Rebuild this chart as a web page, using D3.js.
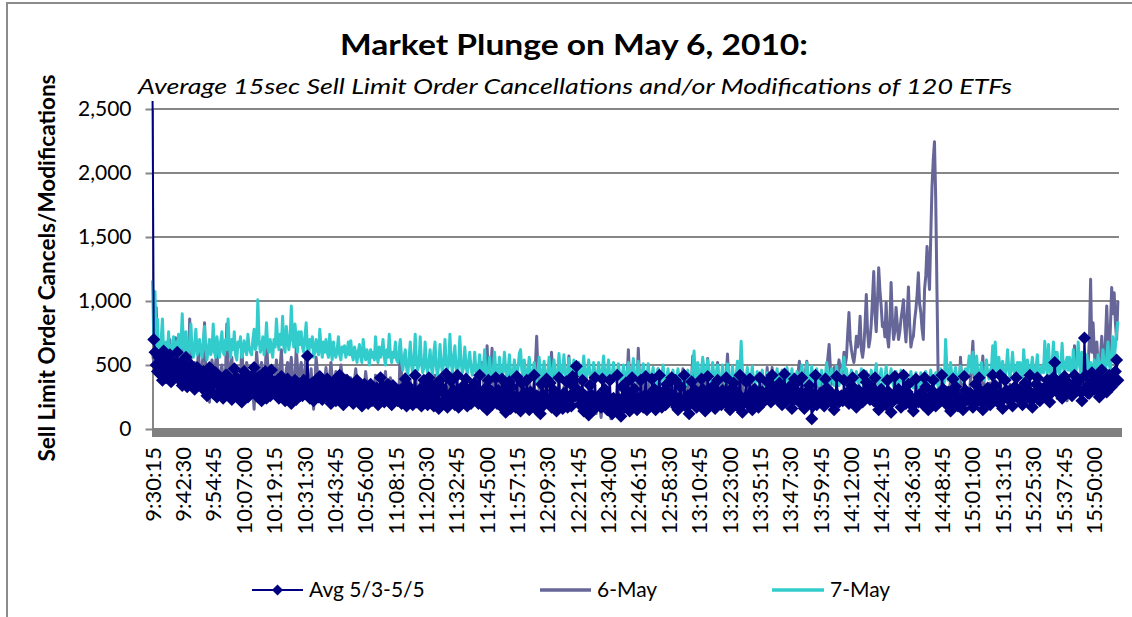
<!DOCTYPE html>
<html>
<head>
<meta charset="utf-8">
<script src="https://cdn.jsdelivr.net/npm/d3@7"></script>
<style>
  body { margin: 0; background: #fff; }
  svg { display: block; font-family: Lato, "Open Sans", sans-serif; }
</style>
</head>
<body>
<svg id="chart" width="1132" height="617"></svg>
<script>
// ---- data ----------------------------------------------------------------
const seriesNames = ["Avg 5/3-5/5", "6-May", "7-May"];
const seriesColors = ["#000080", "#666699", "#33cccc"];

const tickLabels = ["9:30:15","9:42:30","9:54:45","10:07:00","10:19:15","10:31:30","10:43:45",
  "10:56:00","11:08:15","11:20:30","11:32:45","11:45:00","11:57:15","12:09:30","12:21:45",
  "12:34:00","12:46:15","12:58:30","13:10:45","13:23:00","13:35:15","13:47:30","13:59:45",
  "14:12:00","14:24:15","14:36:30","14:48:45","15:01:00","15:13:15","15:25:30","15:37:45","15:50:00"];

const yTicks = [0, 500, 1000, 1500, 2000, 2500];

// one reading every 30 seconds from 9:30:15 (20 readings per row = 10 minutes)
const avgMay3to5 = [
  2700,700,600,500,450,560,430,520,380,610,470,400,540,420,580,370,490,440,520,410,
  600,450,380,520,340,470,410,560,330,440,390,500,350,460,310,420,480,360,410,340,
  380,450,300,420,260,390,480,330,410,280,360,440,250,350,400,290,370,240,330,420,
  420,300,260,380,230,350,470,290,400,320,250,380,210,340,450,280,360,250,390,300,
  340,420,480,300,390,250,410,330,220,380,290,450,240,330,400,260,460,310,370,280,
  280,380,240,330,410,270,350,220,300,390,250,340,200,310,270,380,230,350,300,260,
  320,260,380,290,370,570,330,240,300,360,220,340,280,390,250,410,300,230,350,270,
  300,390,240,350,200,330,270,380,220,360,290,420,240,310,190,340,260,380,230,310,
  260,340,200,310,230,380,270,220,330,180,290,350,240,310,200,280,350,220,300,260,
  240,320,190,290,400,250,330,210,300,260,350,220,280,190,340,240,310,270,220,300,
  270,200,320,240,390,180,340,230,300,250,190,280,420,210,270,240,310,180,260,380,
  240,310,190,400,220,350,250,180,300,210,290,160,380,330,200,280,230,430,170,250,
  260,375,220,300,190,270,420,170,250,290,210,340,230,390,180,260,310,200,270,240,
  360,250,290,200,420,230,270,180,310,240,150,380,220,300,190,260,230,400,200,300,
  240,180,390,210,310,130,250,200,370,160,330,220,250,170,410,200,240,140,360,210,
  280,190,380,210,150,290,230,180,420,210,260,140,240,120,350,270,190,230,390,210,
  210,360,170,240,300,200,140,250,400,190,230,160,280,210,370,170,220,260,180,410,
  330,260,490,300,250,190,290,380,140,260,230,180,110,340,270,200,150,400,200,230,
  260,200,170,390,230,310,190,150,250,380,200,120,240,180,210,420,140,230,100,330,
  230,170,360,200,290,140,220,400,180,310,200,150,240,190,380,220,170,260,410,150,
  260,200,180,390,230,310,150,240,200,420,230,170,260,300,190,350,210,280,230,400,
  210,260,380,170,150,240,330,220,190,420,230,170,260,120,210,370,290,200,300,170,
  250,200,190,390,310,220,140,250,410,190,220,300,330,210,160,250,380,200,280,190,
  300,230,210,400,260,180,150,240,320,360,230,190,180,270,420,220,130,200,240,370,
  200,260,390,190,150,230,310,260,220,170,400,250,290,210,230,280,370,260,260,210,
  420,330,300,240,250,320,360,280,190,250,430,210,230,300,330,250,160,220,390,300,
  365,280,210,260,400,200,160,240,260,300,340,230,80,180,270,420,190,250,240,280,
  250,220,180,390,320,250,230,290,280,200,150,230,410,260,210,250,260,220,380,240,
  280,240,200,290,340,400,230,200,170,250,300,260,250,210,420,280,365,300,260,230,
  330,270,220,400,280,200,150,230,310,270,240,200,190,380,290,230,130,210,260,410,
  240,280,310,230,170,250,420,220,200,290,350,260,230,180,140,220,390,250,210,260,
  280,230,190,400,330,240,150,220,250,300,380,240,180,230,270,210,220,420,310,250,
  200,250,290,220,140,200,390,300,330,260,180,220,240,190,150,410,300,250,230,270,
  280,220,170,250,350,280,220,400,300,210,150,220,260,300,320,250,190,240,420,230,
  340,270,210,260,420,220,160,250,380,300,240,280,300,230,180,260,330,400,250,300,
  300,240,190,280,360,290,250,300,420,230,170,240,280,350,400,300,220,270,310,260,
  260,330,380,290,210,280,340,400,520,380,290,330,360,280,240,320,410,350,300,360,
  350,300,260,340,420,350,300,380,380,290,220,300,710,420,330,280,280,360,440,350,
  310,370,400,300,250,350,460,380,360,300,290,370,420,350,330,390,380,450,540,380
];

const may6 = [
  600,520,480,950,560,420,500,640,450,380,520,560,450,400,700,520,430,480,715,460,
  710,500,400,560,620,380,350,480,560,420,860,540,380,450,520,300,440,600,480,420,
  480,600,830,450,360,300,210,380,540,460,420,520,620,400,330,450,500,380,390,460,
  820,520,380,460,560,400,300,420,480,260,210,380,640,470,350,420,520,380,280,400,
  450,300,155,380,600,480,380,420,520,360,300,450,690,500,350,400,480,340,260,380,
  540,420,320,480,620,400,230,360,470,520,380,460,560,420,300,380,640,480,400,450,
  520,400,330,460,600,420,250,380,470,300,155,340,560,460,360,400,430,350,300,380,
  480,360,280,420,520,400,340,380,450,300,230,360,500,420,310,380,420,330,260,350,
  400,330,260,380,470,360,320,340,380,280,200,320,450,360,280,330,360,300,240,320,
  420,300,230,340,380,320,300,360,450,280,210,330,400,340,270,310,350,280,220,300,
  680,420,300,360,430,320,250,330,380,260,200,320,420,350,290,320,360,280,230,310,
  400,330,260,300,350,270,200,310,420,330,240,300,380,260,180,280,330,300,270,320,
  360,280,220,330,410,300,190,260,340,300,250,320,380,290,210,270,320,280,240,300,
  400,310,230,300,350,450,520,380,260,400,650,420,300,450,630,380,240,320,380,300,
  420,300,200,280,360,300,260,350,450,280,180,260,340,280,230,320,380,260,210,300,
  350,280,220,330,410,290,190,280,360,500,725,450,300,260,240,330,380,280,200,290,
  340,450,600,380,280,240,210,300,380,260,170,260,330,280,240,400,570,380,250,300,
  300,240,190,280,360,220,140,220,280,160,100,200,320,230,150,220,260,180,120,220,
  290,180,90,200,310,220,140,200,250,150,80,180,270,210,160,230,300,200,130,220,
  320,240,180,400,620,380,240,300,360,250,190,350,630,400,260,300,340,260,200,280,
  380,290,220,280,330,250,180,320,470,330,240,280,310,250,200,290,360,280,230,300,
  340,260,190,300,390,280,220,350,470,300,180,280,350,280,230,400,570,380,260,320,
  380,290,210,400,530,350,240,420,550,320,190,280,360,300,250,380,520,330,220,300,
  400,300,230,420,585,380,260,320,370,280,200,320,420,320,240,300,350,270,210,300,
  330,260,190,300,380,280,220,270,300,230,170,280,360,260,200,330,480,320,230,290,
  480,340,250,320,360,270,200,320,400,280,180,270,340,290,220,300,380,280,210,300,
  360,450,530,330,240,330,400,460,530,350,220,310,380,300,250,350,420,340,300,360,
  380,320,280,380,450,560,660,480,350,420,480,420,400,470,540,460,380,480,600,500,
  560,750,910,700,620,560,520,600,725,640,700,880,620,560,640,820,1050,760,640,700,
  820,1020,1230,900,760,1000,1260,1080,960,800,830,720,990,720,640,820,1145,860,700,760,
  950,820,700,760,860,930,1010,800,680,880,1110,820,640,700,725,850,935,1050,1220,980,
  910,780,700,1090,1200,1425,1250,1090,1500,1890,2100,2245,1800,1090,390,320,280,300,260,280,
  330,280,220,300,380,300,250,290,300,250,200,300,560,380,260,300,340,280,230,260,
  380,520,685,400,250,300,340,260,220,380,570,360,300,260,200,280,360,300,240,280,
  320,260,210,300,380,300,250,280,300,230,180,270,350,280,230,260,290,240,200,260,
  340,280,220,260,300,240,190,280,360,290,240,280,310,250,200,300,380,300,250,290,
  300,260,230,330,420,320,260,400,600,380,240,300,350,300,280,300,330,270,220,280,
  380,300,260,450,650,420,300,350,420,340,280,320,360,320,300,500,700,1170,600,830,
  600,450,680,520,400,560,725,520,480,700,960,700,560,800,1105,900,1065,830,700,1000
];

const may7 = [
  1160,700,1075,640,860,560,620,700,860,600,540,680,600,760,520,650,600,720,560,680,
  620,740,560,680,900,640,580,760,620,540,700,820,600,560,660,780,580,640,700,600,
  560,680,800,620,540,640,700,580,620,820,600,560,720,640,560,680,760,600,580,700,
  620,860,640,560,700,620,760,580,540,680,640,720,560,600,690,620,580,740,640,600,
  580,700,780,620,660,1010,700,600,640,720,580,660,830,640,600,700,620,560,700,640,
  860,700,620,740,660,880,640,600,800,700,620,700,960,720,640,820,700,600,760,660,
  760,640,600,720,830,640,560,700,640,720,560,600,700,620,580,780,640,560,680,600,
  700,600,560,740,620,540,680,600,560,620,720,580,540,640,600,650,560,600,680,580,
  690,580,540,640,600,520,600,660,560,520,700,600,540,620,580,500,620,560,600,540,
  720,580,520,640,560,600,700,560,500,620,560,740,580,520,600,560,680,540,520,600,
  700,520,460,560,620,480,420,540,680,500,440,560,740,520,460,500,720,520,440,480,
  680,500,440,520,620,480,420,600,680,480,420,500,660,500,440,520,700,520,460,500,
  740,520,440,560,650,480,420,500,720,520,440,480,640,500,430,520,600,480,420,460,
  600,460,400,480,580,450,400,470,620,460,400,450,560,440,390,460,600,460,400,440,
  560,440,380,470,600,460,400,460,580,440,380,440,540,430,390,480,590,620,460,420,
  540,430,380,460,560,440,390,440,520,420,370,440,560,440,380,450,530,430,380,420,
  560,440,390,460,540,430,380,440,590,450,400,460,580,440,380,430,550,440,390,430,
  540,430,380,450,520,420,380,460,570,440,390,450,540,430,370,420,520,440,390,420,
  520,420,370,460,570,440,390,440,540,420,370,430,520,420,370,430,510,420,370,410,
  500,410,360,440,520,420,370,450,550,430,370,420,530,420,370,430,510,420,360,400,
  510,410,360,420,480,400,340,400,470,390,340,410,500,400,350,400,470,390,340,390,
  460,380,330,400,470,390,340,390,450,380,330,390,460,380,340,410,480,610,420,370,
  520,420,360,460,560,440,380,440,540,420,370,420,520,420,360,420,500,410,360,400,
  500,410,360,420,510,410,350,400,490,400,350,420,530,420,470,685,470,400,350,390,
  480,390,340,400,490,390,340,390,450,380,330,390,460,380,340,390,440,380,330,370,
  440,370,330,400,470,390,340,390,460,380,330,390,480,390,340,400,470,380,330,370,
  450,380,340,420,500,400,350,420,520,410,350,400,490,390,340,400,470,390,340,380,
  460,380,330,420,520,410,350,400,470,390,340,400,490,390,340,410,460,480,560,420,
  470,390,340,400,460,380,330,390,450,380,340,400,470,380,330,390,450,380,340,380,
  460,380,330,420,510,400,340,400,470,380,320,390,490,390,340,400,470,380,330,370,
  450,370,320,390,460,380,330,380,440,370,320,380,450,370,320,380,440,370,320,360,
  440,370,320,390,450,380,330,390,460,370,320,380,440,370,330,400,470,380,330,370,
  700,480,380,440,520,420,370,430,480,400,360,420,490,420,370,440,470,400,480,570,
  520,440,600,460,400,570,440,390,450,520,420,380,440,540,430,390,460,480,650,460,
  680,500,420,560,460,400,530,440,410,480,620,460,400,480,600,460,410,470,520,440,
  520,440,400,620,480,420,540,450,400,480,560,450,400,480,580,460,410,470,500,440,
  685,500,430,660,480,420,520,680,500,440,600,480,420,500,670,480,430,520,560,460,
  560,460,420,620,480,430,520,680,500,440,600,480,430,500,580,470,420,520,480,440,
  540,460,420,580,480,430,520,620,480,440,560,680,500,460,600,720,560,640,760,840
];

// ---- category axis: every 15 seconds from 9:30:15 to 16:00:00 ------------
const categories = [];
for (let s = 9 * 3600 + 30 * 60 + 15; s <= 16 * 3600; s += 15) {
  const h = Math.floor(s / 3600), m = Math.floor((s % 3600) / 60), sec = s % 60;
  categories.push(`${h}:${String(m).padStart(2, "0")}:${String(sec).padStart(2, "0")}`);
}
// the 30-second readings sit on every second category
const readingTimes = categories.filter((c, i) => i % 2 === 0);

const toPoints = arr => arr.map((v, i) => ({ t: readingTimes[i], v }));
const avgPts = toPoints(avgMay3to5);
const may6Pts = toPoints(may6);
const may7Pts = toPoints(may7);

// ---- scales ----------------------------------------------------------------
const x = d3.scalePoint().domain(categories).range([152.5, 1118.5]);
const y = d3.scaleLinear().domain([0, 2500]).range([429, 109]);

const svg = d3.select("#chart");
svg.append("rect").attr("width", 1132).attr("height", 617).attr("fill", "#fff");
// chart frame
svg.append("rect").attr("x", 7).attr("y", 3).attr("width", 1140).attr("height", 640)
  .attr("fill", "none").attr("stroke", "#8c8c8c").attr("stroke-width", 2);

// plot-area clip (values above the top are cut off)
svg.append("defs").append("clipPath").attr("id", "plotClip")
  .append("rect").attr("x", 140).attr("y", 101).attr("width", 990).attr("height", 340);

// titles
svg.append("text").attr("x", 574).attr("y", 55).attr("text-anchor", "middle")
  .attr("font-weight", "bold").attr("font-size", 28)
  .attr("textLength", 468).attr("lengthAdjust", "spacingAndGlyphs")
  .text("Market Plunge on May 6, 2010:");
svg.append("text").attr("x", 138).attr("y", 94)
  .attr("font-style", "italic").attr("font-size", 22)
  .attr("textLength", 874).attr("lengthAdjust", "spacingAndGlyphs")
  .text("Average 15sec Sell Limit Order Cancellations and/or Modifications of 120 ETFs");
svg.append("text").attr("transform", "translate(55,268) rotate(-90)")
  .attr("text-anchor", "middle").attr("font-weight", "bold").attr("font-size", 23)
  .attr("textLength", 387).attr("lengthAdjust", "spacingAndGlyphs")
  .text("Sell Limit Order Cancels/Modifications");

// gridlines
svg.append("g").selectAll("line").data(yTicks.filter(d => d > 0)).join("line")
  .attr("x1", 152).attr("x2", 1119)
  .attr("y1", d => y(d)).attr("y2", d => y(d))
  .attr("stroke", "#868686").attr("stroke-width", 2);

// value axis
const gy = svg.append("g").attr("transform", "translate(152.5,0)")
  .call(d3.axisLeft(y).tickValues(yTicks).tickFormat(d3.format(","))
    .tickSize(7).tickSizeOuter(0).tickPadding(14));
gy.select(".domain").attr("stroke", "#868686").attr("stroke-width", 2);
gy.selectAll(".tick line").attr("stroke", "#868686").attr("stroke-width", 2);
gy.selectAll(".tick text").attr("font-size", 21).attr("fill", "#000")
  .attr("font-family", "Lato, 'Open Sans', sans-serif");

// series lines: 6-May, then 7-May, then the average with its markers
const line = d3.line().x(d => x(d.t)).y(d => y(d.v));
const plot = svg.append("g").attr("clip-path", "url(#plotClip)");
plot.append("path").datum(may6Pts).attr("d", line).attr("fill", "none")
  .attr("stroke", seriesColors[1]).attr("stroke-width", 3).attr("stroke-linejoin", "round");
plot.append("path").datum(may7Pts).attr("d", line).attr("fill", "none")
  .attr("stroke", seriesColors[2]).attr("stroke-width", 3).attr("stroke-linejoin", "round");
plot.append("path").datum(avgPts).attr("d", line).attr("fill", "none")
  .attr("stroke", seriesColors[0]).attr("stroke-width", 2).attr("stroke-linejoin", "round");
const diamond = "M0,-6.5L6.5,0L0,6.5L-6.5,0Z";
plot.append("g").selectAll("path").data(avgPts).join("path")
  .attr("d", diamond)
  .attr("transform", d => `translate(${x(d.t)},${y(d.v)})`)
  .attr("fill", seriesColors[0]);

// category axis: heavy base bar plus rotated time labels
svg.append("rect").attr("x", 152).attr("y", 428).attr("width", 970).attr("height", 9)
  .attr("fill", "#808080");
const gx = svg.append("g").attr("transform", "translate(0,447)")
  .call(d3.axisBottom(x).tickValues(tickLabels).tickSize(0).tickPadding(0));
gx.select(".domain").remove();
gx.selectAll(".tick text")
  .attr("transform", "rotate(-90)").attr("x", 0).attr("y", 0).attr("dy", "0.35em")
  .attr("text-anchor", "end").attr("font-size", 22).attr("fill", "#000")
  .attr("font-family", "Lato, 'Open Sans', sans-serif");

// legend
const legend = svg.append("g").attr("font-size", 21);
const legendItems = [
  { name: seriesNames[0], color: seriesColors[0], x1: 252, x2: 303, w: 2, marker: true },
  { name: seriesNames[1], color: seriesColors[1], x1: 540, x2: 591, w: 3.5, marker: false },
  { name: seriesNames[2], color: seriesColors[2], x1: 772, x2: 824, w: 3.5, marker: false }
];
const ly = 590;
legendItems.forEach(it => {
  legend.append("line").attr("x1", it.x1).attr("x2", it.x2).attr("y1", ly).attr("y2", ly)
    .attr("stroke", it.color).attr("stroke-width", it.w);
  if (it.marker) {
    legend.append("path").attr("d", "M0,-5.5L5.5,0L0,5.5L-5.5,0Z")
      .attr("transform", `translate(${(it.x1 + it.x2) / 2},${ly})`).attr("fill", it.color);
  }
  legend.append("text").attr("x", it.x2 + 6).attr("y", ly).attr("dy", "0.35em")
    .attr("fill", "#000").text(it.name);
});
</script>
</body>
</html>
